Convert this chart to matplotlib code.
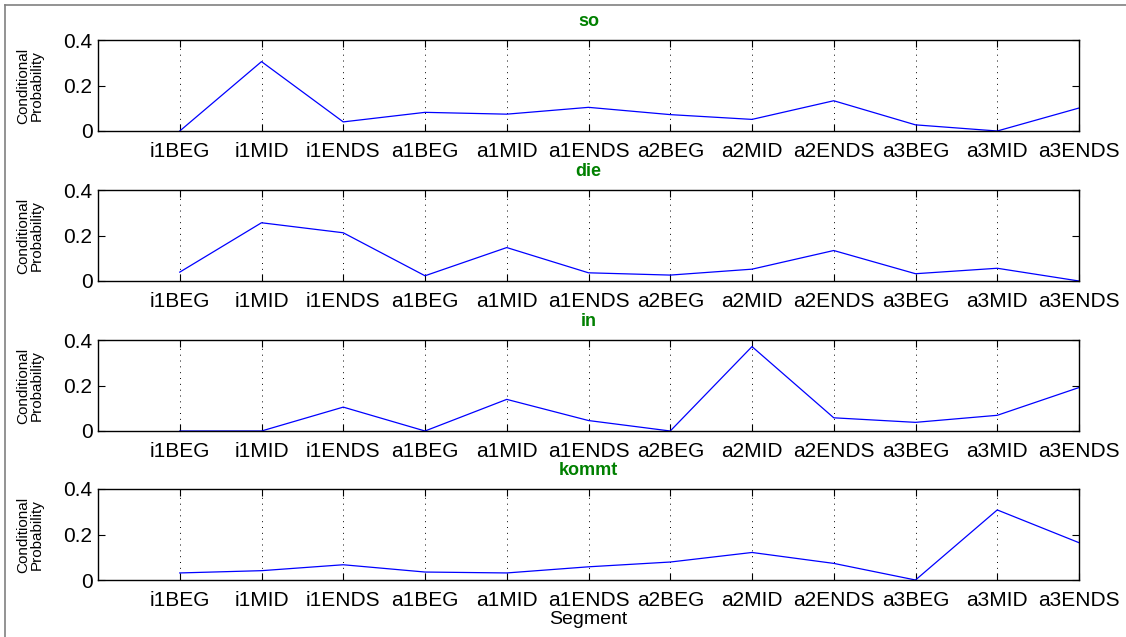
import matplotlib.pyplot as plt
from matplotlib.lines import Line2D

# Segment names along the x axis
SEGMENTS = ["i1BEG", "i1MID", "i1ENDS", "a1BEG", "a1MID", "a1ENDS",
            "a2BEG", "a2MID", "a2ENDS", "a3BEG", "a3MID", "a3ENDS"]

# Conditional probability per segment for each word
WORDS = ["so", "die", "in", "kommt"]
P_SO = [0.0, 0.305, 0.040, 0.082, 0.074, 0.104, 0.072, 0.051, 0.133, 0.027, 0.0, 0.101]
P_DIE = [0.039, 0.256, 0.212, 0.023, 0.147, 0.036, 0.026, 0.052, 0.134, 0.032, 0.056, 0.0]
P_IN = [0.0, 0.0, 0.105, 0.0, 0.139, 0.046, 0.0, 0.371, 0.058, 0.038, 0.069, 0.191]
P_KOMMT = [0.031, 0.041, 0.067, 0.035, 0.031, 0.058, 0.079, 0.121, 0.073, 0.0, 0.308, 0.164]

OUTPUT_FILE = "out.png"
W, H = 1126, 637

plt.rcParams['font.family'] = ['Liberation Sans', 'DejaVu Sans']


def axes_rect(top_px, bottom_px, left_px=98, right_px=1079):
    """Convert pixel edges to a figure-fraction rectangle."""
    return [left_px / W, 1 - bottom_px / H,
            (right_px - left_px) / W, (bottom_px - top_px) / H]


def draw_panel(ax, word, probs, xlabel=False):
    x = range(1, len(SEGMENTS) + 1)
    ax.plot(x, probs, color=(0, 0, 1), linewidth=0.9)
    ax.set_xlim(0, 12)
    ax.set_ylim(0, 0.4)
    ax.set_xticks(list(x))
    ax.set_xticklabels(SEGMENTS, fontsize=15)
    ax.set_yticks([0, 0.2, 0.4])
    ax.set_yticklabels(["0", "0.2", "0.4"], fontsize=15)
    ax.tick_params(direction="in", top=True, right=True, length=5,
                   width=0.8, colors="black")
    ax.tick_params(axis="x", pad=8)
    ax.tick_params(axis="y", pad=4)
    ax.xaxis.grid(True, linestyle=(0, (1, 5)), color="black", linewidth=0.7)
    for spine in ax.spines.values():
        spine.set_linewidth(1.0)
    ax.set_title(word, color=(0, 0.5, 0), fontweight="bold", fontsize=13, pad=10)
    ax.set_ylabel("Conditional\nProbability", fontsize=11, labelpad=14,
                  linespacing=1.0)
    if xlabel:
        ax.set_xlabel("Segment", fontsize=14, labelpad=1)


def main():
    fig = plt.figure(figsize=(W / 100, H / 100), dpi=100)
    panels = [(WORDS[0], P_SO, 40, 131),
              (WORDS[1], P_DIE, 190, 281),
              (WORDS[2], P_IN, 340, 431),
              (WORDS[3], P_KOMMT, 489, 580)]
    for i, (word, probs, top, bottom) in enumerate(panels):
        ax = fig.add_axes(axes_rect(top, bottom))
        draw_panel(ax, word, probs, xlabel=(i == len(panels) - 1))

    # thin grey frame along the top and left edges
    fig.add_artist(Line2D([5 / W, 1], [1 - 5 / H, 1 - 5 / H],
                          transform=fig.transFigure, color="#808080", lw=1.2))
    fig.add_artist(Line2D([5 / W, 5 / W], [0, 1 - 5 / H],
                          transform=fig.transFigure, color="#808080", lw=1.2))

    fig.savefig(OUTPUT_FILE, dpi=100)


if __name__ == "__main__":
    main()
